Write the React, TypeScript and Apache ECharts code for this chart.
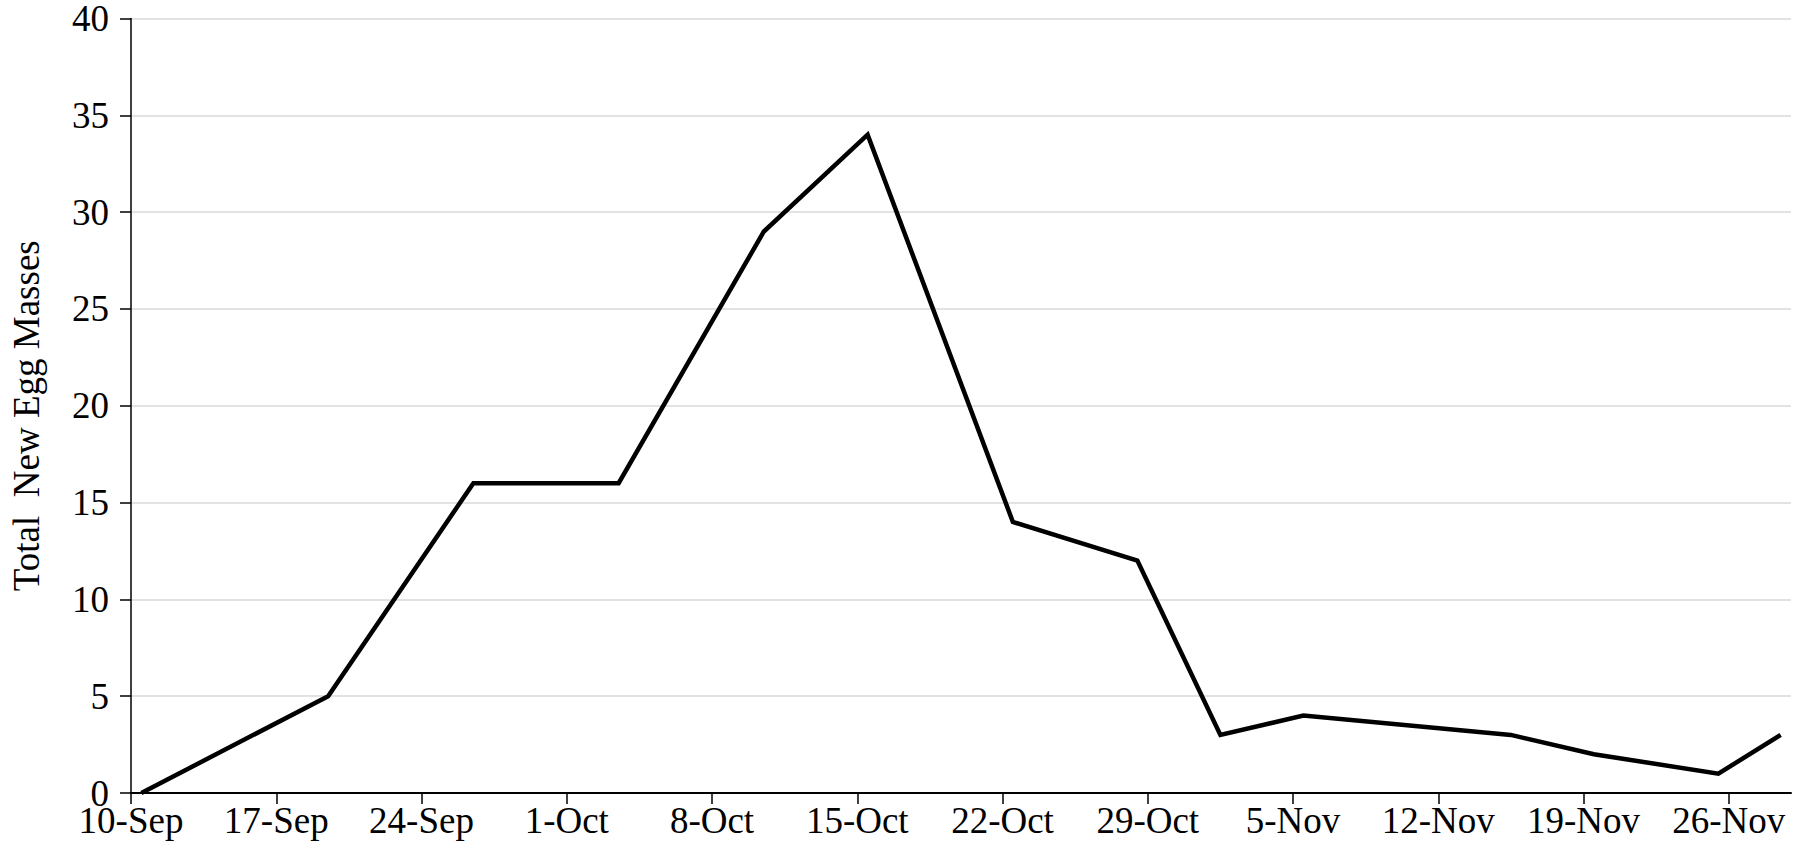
import React, { useEffect, useRef } from "react";
import * as echarts from "echarts";

// Axis start date (first tick) and span in days
const axisStart = "2020-09-10";
const axisDays = 80;

// Tick labels (one every 7 days from axisStart)
const tickLabels = [
  "10-Sep", "17-Sep", "24-Sep", "1-Oct", "8-Oct", "15-Oct",
  "22-Oct", "29-Oct", "5-Nov", "12-Nov", "19-Nov", "26-Nov",
];

// Sampling dates
const sampleDates = [
  "2020-09-10", "2020-09-19", "2020-09-26", "2020-10-03", "2020-10-10",
  "2020-10-15", "2020-10-22", "2020-10-28", "2020-11-01", "2020-11-05",
  "2020-11-15", "2020-11-19", "2020-11-25", "2020-11-28",
];

// Total new egg masses
const eggMasses = [0, 5, 16, 16, 29, 34, 14, 12, 3, 4, 3, 2, 1, 3];

const DAY = 86400000;
const dayOffset = (iso: string) =>
  (Date.parse(iso + "T00:00:00Z") - Date.parse(axisStart + "T00:00:00Z")) / DAY;

const FONT = "Liberation Serif";

export default function App() {
  const ref = useRef<HTMLDivElement>(null);
  useEffect(() => {
    if (!ref.current) return;
    const chart = echarts.init(ref.current, null, { renderer: "svg" });
    const tickValues = tickLabels.map((_, i) => i * 7);
    // each date occupies a one-day slot; the point sits at the slot centre
    const data = sampleDates.map((d, i) => [dayOffset(d) + 0.5, eggMasses[i]]);
    chart.setOption({
      animation: false,
      backgroundColor: "#ffffff",
      grid: { left: 128, right: 12, top: 15.5, bottom: 69, containLabel: false },
      xAxis: {
        type: "value",
        min: 0,
        max: axisDays,
        interval: 7,
        axisLine: { show: true, onZero: false, lineStyle: { color: "#000", width: 2 } },
        axisTick: {
          show: true,
          length: 11,
          customValues: tickValues,
          lineStyle: { color: "#000", width: 1.5 },
        },
        axisLabel: {
          customValues: tickValues,
          margin: 9,
          color: "#000",
          fontFamily: FONT,
          fontSize: 37,
          formatter: (v: number) => tickLabels[Math.round(v / 7)] ?? "",
        },
        splitLine: { show: false },
      },
      yAxis: {
        type: "value",
        min: 0,
        max: 40,
        interval: 5,
        name: "Total  New Egg Masses",
        nameLocation: "middle",
        nameGap: 86,
        nameTextStyle: { color: "#000", fontFamily: FONT, fontSize: 37, padding: [0, 20, 0, 0] },
        axisLine: { show: true, lineStyle: { color: "#000", width: 1.5 } },
        axisTick: { show: true, length: 11, lineStyle: { color: "#000", width: 1.5 } },
        axisLabel: { margin: 22, color: "#000", fontFamily: FONT, fontSize: 37 },
        splitLine: { show: true, lineStyle: { color: "#d9d9d9", width: 1.5 } },
      },
      series: [
        {
          type: "line",
          data,
          showSymbol: false,
          symbol: "none",
          lineStyle: { color: "#000", width: 4.5, join: "miter" },
        },
      ],
    });
    return () => chart.dispose();
  }, []);
  return (
    <div
      ref={ref}
      style={{ position: "fixed", left: 0, top: 0, width: 1803, height: 862, background: "#fff" }}
    />
  );
}
